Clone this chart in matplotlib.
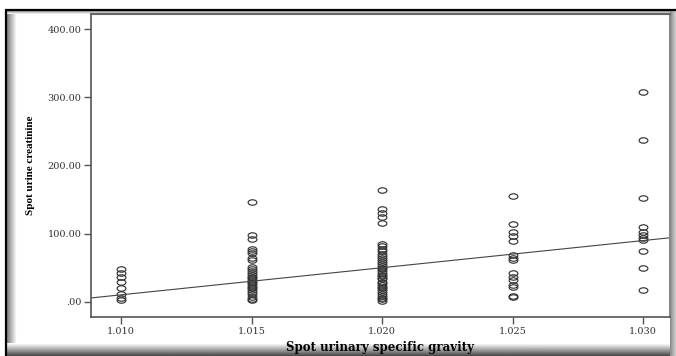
import numpy as np
import matplotlib
matplotlib.use("Agg")
import matplotlib.pyplot as plt
from matplotlib.path import Path
from matplotlib.ticker import FuncFormatter

# values (spot urine creatinine per specific gravity)
sg_levels = [1.010, 1.015, 1.020, 1.025, 1.030]
cr_1010 = [48, 42, 37, 30, 20, 12, 6, 3]
cr_1015 = [146, 98, 92, 78, 75, 72, 65, 61, 52, 49, 45, 42, 40, 37, 35,
           32, 30, 28, 25, 22, 20, 17, 14, 11, 8, 5, 3]
cr_1020 = [164, 136, 130, 124, 116, 85, 82, 78, 74, 71, 68, 65, 62, 59, 56,
           53, 50, 48, 45, 43, 40, 38, 35, 33, 30, 28, 25, 22, 20, 17, 14,
           12, 9, 6, 4, 1]
cr_1025 = [155, 115, 102, 96, 89, 69, 65, 61, 42, 36, 32, 25, 22, 9, 7]
cr_1030 = [307, 238, 152, 110, 103, 98, 94, 91, 75, 50, 18]
groups = [cr_1010, cr_1015, cr_1020, cr_1025, cr_1030]

# fit line, read at two x positions
fit_x = [1.010, 1.030]
fit_y = [10.5, 90.0]

y_ticks = [0, 100, 200, 300, 400]

W, H = 676, 356
fig = plt.figure(figsize=(W / 100, H / 100), dpi=100)

# outer frame with shadow, in pixel units
bg = fig.add_axes([0, 0, 1, 1], zorder=-1)
bg.set_xlim(0, W)
bg.set_ylim(H, 0)
bg.axis("off")
kw = dict(cmap="gray", vmin=0, vmax=1, aspect="auto", interpolation="bilinear")
bg.imshow(np.linspace(0.45, 1, 12)[None, :], extent=(6, 17, H, 10), **kw)
bg.imshow(np.linspace(1, 0.3, 12)[:, None], extent=(6, W, H, 343), **kw)
bg.imshow(np.linspace(0.5, 0.95, 5)[:, None], extent=(6, W, 14, 10), **kw)
bg.imshow(np.linspace(0.55, 0.8, 6)[None, :], extent=(670, W, H, 10), **kw)
bg.plot([5, W], [9.5, 9.5], color="black", lw=1.6, solid_capstyle="butt")
bg.plot([5.5, 5.5], [9, H], color="black", lw=1.6, solid_capstyle="butt")

ax = fig.add_axes([91 / W, 1 - 317 / H, (670 - 91) / W, (317 - 14) / H])
ax.set_facecolor("white")

# flattened circle marker like the reference
circ = Path.unit_circle()
ell = Path(circ.vertices * np.array([1.0, 0.62]), circ.codes)

for sg, vals in zip(sg_levels, groups):
    ax.plot([sg] * len(vals), vals, ls="none", marker=ell, ms=6.3,
            mfc="none", mec="#333333", mew=0.85)

ax.axline((fit_x[0], fit_y[0]), (fit_x[1], fit_y[1]), color="#444444", lw=0.8)

ax.set_xlim(1.00885, 1.03103)
ax.set_ylim(-22, 422)
ax.set_xticks(sg_levels)
ax.set_xticklabels([f"{v:.3f}" for v in sg_levels])
ax.set_yticks(y_ticks)
ax.yaxis.set_major_formatter(FuncFormatter(lambda v, p: ".00" if v == 0 else f"{v:.2f}"))

for lab in ax.get_xticklabels() + ax.get_yticklabels():
    lab.set_family("DejaVu Serif")
    lab.set_fontsize(7)
    lab.set_color("#333333")
ax.tick_params(axis="both", length=5, width=1, color="#555555", pad=2)

for s in ["left", "bottom"]:
    ax.spines[s].set_color("#555555")
    ax.spines[s].set_linewidth(1.2)
ax.spines["top"].set_color("#666666")
ax.spines["top"].set_linewidth(1.5)
ax.spines["right"].set_color("#888888")
ax.spines["right"].set_linewidth(1.5)

ax.set_xlabel("Spot urinary specific gravity", family="DejaVu Serif",
              fontweight="bold", fontsize=8.5, labelpad=4)
ax.set_ylabel("Spot urine creatinine", family="Liberation Serif",
              fontweight="bold", fontsize=8, labelpad=9)

fig.savefig("out.png", dpi=100)
